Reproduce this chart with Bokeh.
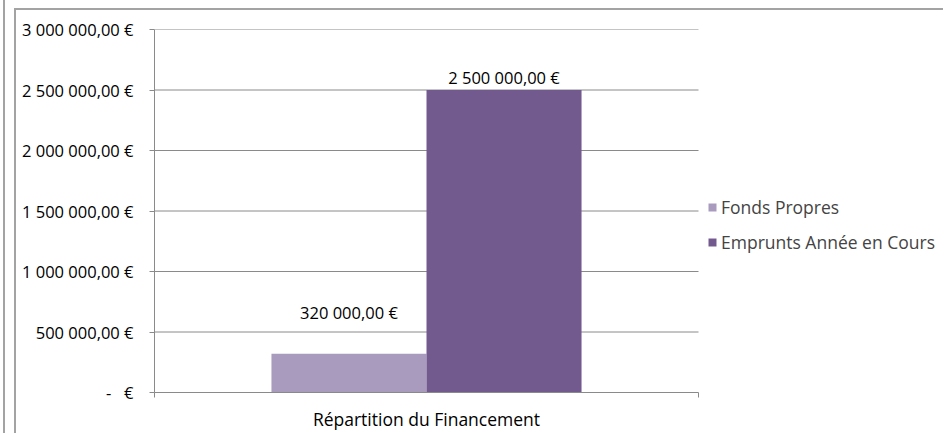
from bokeh.plotting import figure
from bokeh.models import (ColumnDataSource, LinearAxis, FixedTicker, Range1d,
                          LabelSet, Legend, LegendItem)
from bokeh.core.properties import value
from bokeh.embed import file_html
from bokeh.resources import INLINE

# ---- data ----
category = ["Répartition du Financement"]
series = ["Fonds Propres", "Emprunts Année en Cours"]
values = [320000, 2500000]
value_labels = ["320 000,00 €", "2 500 000,00 €"]
y_ticks = [0, 500000, 1000000, 1500000, 2000000, 2500000, 3000000]
y_tick_labels = ["-\u00a0\u00a0\u00a0€", "500 000,00 €", "1 000 000,00 €", "1 500 000,00 €",
                 "2 000 000,00 €", "2 500 000,00 €", "3 000 000,00 €"]

# ---- style / layout ----
colors = ["#A99BBE", "#725A8F"]
FONT = "Open Sans"
FS_NUM = "16.5px"
FS_TXT = "17.5px"
GRID = "#8a8a8a"
FRAME = "#a3a3a3"
W, H = 943, 433
PLOT_L, PLOT_R, PLOT_T, PLOT_B = 154, 698, 29, 392
bar_w = 0.285
label_offsets = [30, 1]

n = len(series)
ncat = len(category)
xs = [0.5 + (i - (n - 1) / 2) * bar_w for i in range(n)]
# frame extends to the right edge so the legend is not clipped;
# the category band [0, ncat] occupies PLOT_L..PLOT_R
x_end = ncat * (W - PLOT_L) / (PLOT_R - PLOT_L)

src = ColumnDataSource(dict(x=xs, top=values, name=series, color=colors,
                            lab=value_labels, off=label_offsets))
grid_src = ColumnDataSource(dict(y=y_ticks[1:]))

p = figure(width=W, height=H, output_backend="svg", toolbar_location=None,
           x_range=Range1d(0, x_end), y_range=Range1d(0, y_ticks[-1]),
           x_axis_type=None, y_axis_type=None,
           min_border_left=PLOT_L, min_border_right=0,
           min_border_top=PLOT_T, min_border_bottom=H - PLOT_B)
p.outline_line_color = None
p.background_fill_color = None
p.border_fill_color = None
p.styles = {
    "background-color": "white",
    "background-image": (
        f"linear-gradient({FRAME},{FRAME}), "
        f"linear-gradient({FRAME},{FRAME}), "
        f"linear-gradient({FRAME},{FRAME})"
    ),
    "background-position": "3px 0px, 14px 8px, 14px 8px",
    "background-size": "2px 100%, 2px 100%, 100% 2px",
    "background-repeat": "no-repeat",
}

# horizontal gridlines limited to the category band
p.segment(x0=0, x1=ncat, y0="y", y1="y", source=grid_src,
          line_color=GRID, line_width=1)

r = p.vbar(x="x", top="top", width=bar_w, bottom=0, color="color", source=src,
           line_color=None)

yaxis = LinearAxis(ticker=FixedTicker(ticks=y_ticks, minor_ticks=[]))
yaxis.major_label_overrides = {t: l for t, l in zip(y_ticks, y_tick_labels)}
yaxis.axis_line_color = GRID
yaxis.major_tick_line_color = GRID
yaxis.major_tick_in = 0
yaxis.major_tick_out = 5
yaxis.minor_tick_line_color = None
yaxis.major_label_standoff = 16
yaxis.major_label_text_font = FONT
yaxis.major_label_text_font_size = FS_NUM
yaxis.major_label_text_color = "black"
p.add_layout(yaxis, "left")

xaxis = LinearAxis(bounds=(0, ncat),
                   ticker=FixedTicker(ticks=[i + 0.5 for i in range(ncat)],
                                      minor_ticks=[float(i) for i in range(ncat + 1)]))
xaxis.major_label_overrides = {i + 0.5: c for i, c in enumerate(category)}
xaxis.axis_line_color = GRID
xaxis.major_tick_line_color = None
xaxis.major_tick_in = 0
xaxis.major_tick_out = 0
xaxis.minor_tick_line_color = GRID
xaxis.minor_tick_in = 0
xaxis.minor_tick_out = 5
xaxis.major_label_standoff = 9
xaxis.major_label_text_font = FONT
xaxis.major_label_text_font_size = FS_TXT
xaxis.major_label_text_color = "black"
p.add_layout(xaxis, "below")

labels = LabelSet(x="x", y="top", text="lab", source=src, y_offset="off",
                  text_align="center", text_baseline="bottom",
                  text_font=value(FONT), text_font_size=FS_NUM, text_color="black")
p.add_layout(labels)

legend = Legend(items=[LegendItem(label=s, renderers=[r], index=i) for i, s in enumerate(series)],
                location=(707 - PLOT_L, PLOT_B - 254), padding=0, margin=0, spacing=11,
                glyph_width=10, glyph_height=10, label_height=20, label_standoff=4,
                label_text_font=FONT, label_text_font_size=FS_TXT,
                border_line_color=None, background_fill_alpha=0)
p.add_layout(legend)

open("out.html", "w").write(file_html(p, INLINE))
